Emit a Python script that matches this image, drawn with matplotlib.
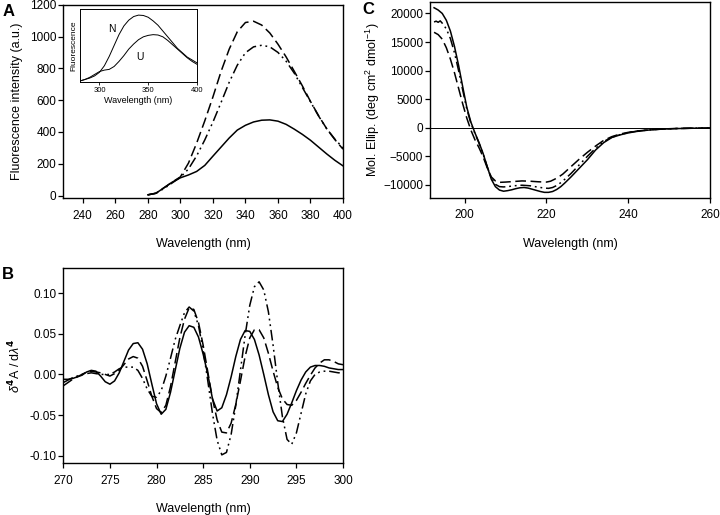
import numpy as np
import matplotlib
matplotlib.use("Agg")
import matplotlib.pyplot as plt

plt.rcParams["font.family"] = ["Liberation Sans", "DejaVu Sans"]
plt.rcParams["mathtext.fontset"] = "custom"
plt.rcParams["mathtext.rm"] = "Liberation Sans"
plt.rcParams["mathtext.it"] = "Liberation Sans:italic"

# --- panel A: fluorescence emission (main) ---
fl_wl = np.arange(280, 401, 5)
fl_solid = [5, 15, 50, 85, 112, 130, 152, 190, 248, 305, 362, 412, 442, 463, 474, 476,
            468, 448, 418, 385, 348, 305, 262, 222, 187]
fl_dash = [5, 15, 50, 85, 118, 205, 330, 470, 620, 780, 920, 1030, 1088, 1096, 1072, 1022,
           952, 872, 782, 690, 592, 502, 420, 352, 292]
fl_ddot = [5, 15, 45, 80, 115, 168, 250, 350, 462, 585, 712, 820, 898, 935, 945, 935,
           900, 845, 770, 680, 590, 500, 420, 355, 300]

# inset: N and U
ins_wl = np.arange(280, 401, 5)
ins_N = [0.01, 0.03, 0.05, 0.08, 0.13, 0.22, 0.35, 0.50, 0.65, 0.77, 0.85, 0.90, 0.92,
         0.915, 0.89, 0.84, 0.78, 0.70, 0.62, 0.54, 0.46, 0.40, 0.34, 0.30, 0.26]
ins_U = [0.01, 0.03, 0.06, 0.10, 0.14, 0.16, 0.17, 0.21, 0.28, 0.36, 0.45, 0.52, 0.58,
         0.62, 0.64, 0.65, 0.645, 0.62, 0.57, 0.51, 0.45, 0.39, 0.33, 0.28, 0.24]

# --- panel B: fourth derivative spectra ---
d4_wl = np.arange(270, 300.01, 0.5)
d4_solid = [-0.006, -0.006, -0.005, -0.003, -0.001, 0.003, 0.005, 0.004, -0.002, -0.009,
            -0.012, -0.008, 0.002, 0.016, 0.030, 0.038, 0.039, 0.031, 0.013, -0.012,
            -0.036, -0.049, -0.043, -0.022, 0.005, 0.032, 0.052, 0.060, 0.058, 0.046,
            0.025, 0.000, -0.030, -0.045, -0.041, -0.025, -0.003, 0.022, 0.043, 0.054,
            0.053, 0.043, 0.024, 0.000, -0.025, -0.046, -0.057, -0.058, -0.049, -0.035,
            -0.020, -0.007, 0.003, 0.009, 0.011, 0.011, 0.010, 0.008, 0.007, 0.006, 0.006]
d4_dash = [-0.014, -0.010, -0.006, -0.003, 0.000, 0.003, 0.004, 0.003, 0.002, 0.000,
           -0.002, 0.001, 0.005, 0.012, 0.019, 0.022, 0.020, 0.010, -0.008, -0.027,
           -0.042, -0.047, -0.038, -0.015, 0.015, 0.045, 0.068, 0.082, 0.080, 0.064,
           0.036, 0.003, -0.030, -0.056, -0.071, -0.072, -0.060, -0.037, -0.008, 0.022,
           0.045, 0.055, 0.055, 0.045, 0.026, 0.004, -0.016, -0.030, -0.037, -0.038,
           -0.032, -0.022, -0.011, -0.001, 0.008, 0.014, 0.018, 0.018, 0.016, 0.013, 0.012]
d4_ddot = [-0.010, -0.007, -0.004, -0.002, 0.000, 0.001, 0.002, 0.001, 0.000, 0.000,
           0.000, 0.003, 0.007, 0.009, 0.009, 0.009, 0.005, -0.005, -0.018, -0.027,
           -0.028, -0.020, -0.002, 0.020, 0.043, 0.060, 0.076, 0.083, 0.078, 0.060,
           0.030, -0.008, -0.048, -0.081, -0.099, -0.096, -0.074, -0.038, 0.005, 0.048,
           0.085, 0.108, 0.114, 0.104, 0.077, 0.036, -0.010, -0.052, -0.080, -0.086,
           -0.072, -0.048, -0.024, -0.008, 0.000, 0.003, 0.004, 0.004, 0.003, 0.002, 0.002]

# --- panel C: far-UV CD ---
cd_wl_solid = [192.5, 193.5, 194.5, 195.5, 196.5, 197.5, 198.5, 199.5, 200.5, 201.5, 202.5,
               203.5, 204.5, 205.5, 206.5, 207.5, 208.5, 209.5, 210.5, 211.5, 212.5, 213.5,
               214.5, 215.5, 216.5, 217.5, 218.5, 219.5, 220.5, 221.5, 222.5, 223.5, 224.5,
               226, 228, 230, 232, 234, 236, 238, 240, 242, 245, 248, 252, 256, 260]
cd_solid = [21000, 20600, 20000, 18800, 16900, 14200, 10900, 7200, 3600, 1000, -900,
            -2600, -4500, -6800, -9000, -10300, -10900, -11100, -11000, -10850, -10650, -10500,
            -10450, -10550, -10750, -10950, -11150, -11300, -11300, -11150, -10800, -10300, -9650,
            -8600, -7100, -5600, -3900, -2600, -1700, -1250, -900, -650, -400, -250, -140, -80, -50]
cd_wl_ddot = [192.5, 193.0, 193.5, 194.0, 194.5, 195.5, 196.5, 197.5, 198.5, 199.5, 200.5,
              201.5, 202.5, 203.5, 204.5, 205.5, 206.5, 207.5, 208.5, 209.5, 210.5, 212,
              214, 216, 218, 219.5, 220.5, 221.5, 222.5, 223.5, 224.5, 226, 228, 230, 232,
              234, 236, 238, 240, 242, 245, 248, 252, 256, 260]
cd_ddot = [18500, 18650, 18450, 18700, 18300, 17300, 15600, 13100, 10000, 6600, 3300,
           800, -1000, -2700, -4600, -6800, -8800, -9900, -10300, -10350, -10300, -10150,
           -10050, -10150, -10400, -10550, -10600, -10450, -10100, -9600, -9000, -8000, -6500,
           -5000, -3600, -2400, -1650, -1200, -850, -600, -380, -240, -130, -70, -40]
cd_wl_dash = [192.5, 193.5, 194.5, 195.5, 196.5, 197.5, 198.5, 199.5, 200.5, 201.5, 202.5,
              203.5, 204.5, 205.5, 206.5, 207.5, 208.5, 210, 212, 214, 216, 218, 220, 221,
              222, 223, 224, 226, 228, 230, 232, 234, 236, 238, 240, 242, 245, 248, 252,
              256, 260]
cd_dash = [16700, 16300, 15500, 14000, 12000, 9600, 6900, 4200, 1700, -400, -2100,
           -3500, -5100, -7000, -8600, -9300, -9550, -9500, -9400, -9300, -9350, -9450, -9500,
           -9350, -9000, -8600, -8100, -6800, -5500, -4300, -3200, -2200, -1550, -1100,
           -800, -580, -360, -220, -120, -70, -40]

DASH = (0, (7, 3))
DDOT = (0, (7, 2.5, 1.2, 2.5, 1.2, 2.5))
LW = 1.1


def style_axes(ax, xpad=5, ypad=1.5):
    for s in ax.spines.values():
        s.set_linewidth(1.0)
    ax.tick_params(direction="out", length=3.5, width=0.9, labelsize=8.5)
    ax.tick_params(axis="x", pad=xpad)
    ax.tick_params(axis="y", pad=ypad)


fig = plt.figure(figsize=(7.2, 5.15), dpi=100)

# panel A
axA = fig.add_axes([0.0879, 0.6155, 0.3885, 0.3754])
axA.plot(fl_wl, fl_solid, color="black", lw=LW)
axA.plot(fl_wl, fl_dash, color="black", lw=LW, linestyle=DASH)
axA.plot(fl_wl, fl_ddot, color="black", lw=LW, linestyle=DDOT)
axA.set_xlim(228, 400)
axA.set_ylim(-15, 1200)
axA.set_xticks(np.arange(240, 401, 20))
axA.set_yticks(np.arange(0, 1201, 200))
axA.set_xlabel("Wavelength (nm)", fontsize=9, labelpad=12)
axA.set_ylabel("Fluorescence intensity (a.u.)", fontsize=9, labelpad=5)
style_axes(axA)

# inset
axI = fig.add_axes([0.1111, 0.8414, 0.1625, 0.1405])
axI.plot(ins_wl, ins_N, color="black", lw=0.7)
axI.plot(ins_wl, ins_U, color="black", lw=0.7)
axI.set_xlim(280, 400)
axI.set_ylim(0, 1.0)
axI.set_xticks([300, 350, 400])
axI.set_yticks([])
axI.tick_params(direction="out", length=2, width=0.6, labelsize=5.5, pad=2)
for s in axI.spines.values():
    s.set_linewidth(0.7)
axI.set_xlabel("Wavelength (nm)", fontsize=6.5, labelpad=1.5)
axI.set_ylabel("Fluorescence", fontsize=6, labelpad=2)
axI.text(313, 0.73, "N", fontsize=7.5, ha="center", va="center")
axI.text(341, 0.34, "U", fontsize=7.5, ha="center", va="center")

# panel B
axB = fig.add_axes([0.0879, 0.1010, 0.3885, 0.3786])
axB.plot(d4_wl, d4_solid, color="black", lw=LW)
axB.plot(d4_wl, d4_dash, color="black", lw=LW, linestyle=DASH)
axB.plot(d4_wl, d4_ddot, color="black", lw=LW, linestyle=DDOT)
axB.set_xlim(270, 300)
axB.set_ylim(-0.109, 0.131)
axB.set_xticks(np.arange(270, 301, 5))
axB.set_yticks([-0.10, -0.05, 0.0, 0.05, 0.10])
axB.yaxis.set_major_formatter(matplotlib.ticker.FormatStrFormatter("%.2f"))
axB.set_xlabel("Wavelength (nm)", fontsize=9, labelpad=12)
axB.set_ylabel(r"$\delta^{\mathbf{4}}$A / d$\lambda^{\mathbf{4}}$", fontsize=9, labelpad=4)
style_axes(axB)

# panel C
axC = fig.add_axes([0.5972, 0.6165, 0.3889, 0.3796])
axC.axhline(0, color="black", lw=0.7)
axC.plot(cd_wl_solid, cd_solid, color="black", lw=LW)
axC.plot(cd_wl_dash, cd_dash, color="black", lw=LW, linestyle=DASH)
axC.plot(cd_wl_ddot, cd_ddot, color="black", lw=LW, linestyle=DDOT)
axC.set_xlim(191.5, 260)
axC.set_ylim(-12200, 22000)
axC.set_xticks([200, 220, 240, 260])
axC.set_yticks(np.arange(-10000, 20001, 5000))
axC.set_xlabel("Wavelength (nm)", fontsize=9, labelpad=12)
axC.set_ylabel(r"Mol. Ellip. (deg cm$^{2}$ dmol$^{-1}$)", fontsize=9, labelpad=1)
style_axes(axC)

# panel letters
fig.text(0.003, 0.992, "A", fontsize=12, fontweight="bold", va="top")
fig.text(0.003, 0.482, "B", fontsize=12, fontweight="bold", va="top")
fig.text(0.503, 0.996, "C", fontsize=12, fontweight="bold", va="top")

fig.savefig("out.png", dpi=100)
